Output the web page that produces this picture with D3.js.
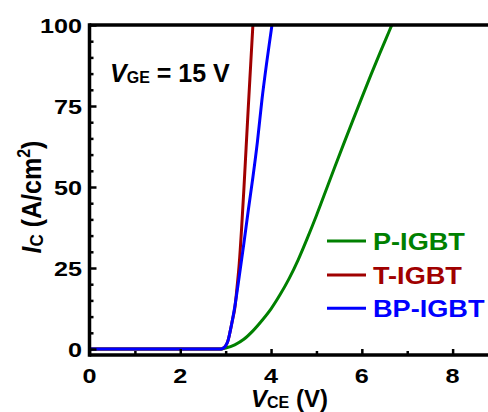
<!DOCTYPE html>
<html>
<head>
<meta charset="utf-8">
<script src="https://cdn.jsdelivr.net/npm/d3@7"></script>
<style>
  html, body { margin: 0; padding: 0; background: #ffffff; }
  svg { display: block; }
  text { font-family: "Liberation Sans", Arial, sans-serif; font-weight: bold; }
</style>
</head>
<body>
<svg id="chart" width="488" height="412"></svg>
<script>
// Output characteristics I_C vs V_CE at V_GE = 15 V
const seriesNames = ["P-IGBT", "T-IGBT", "BP-IGBT"];
const seriesColors = ["#008000", "#a00000", "#0000ff"];

const vceP = [0, 0.5, 1, 1.5, 2, 2.5, 2.9, 3.0, 3.2, 3.4, 3.6, 3.8, 4.0, 4.2, 4.4, 4.6, 4.8, 5.0, 5.2, 5.4, 5.6, 5.8, 6.0, 6.2, 6.4, 6.6, 6.7];
const icP  = [0, 0, 0, 0, 0, 0, 0, 0.3, 1.3, 3.0, 5.6, 8.8, 12.4, 16.8, 21.8, 27.6, 34.2, 41.2, 48.6, 56.0, 63.3, 70.5, 77.6, 84.6, 91.4, 98.0, 101.3];

const vceT = [0, 0.5, 1, 1.5, 2, 2.5, 2.9, 2.95, 3.0, 3.05, 3.1, 3.15, 3.2, 3.25, 3.3, 3.35, 3.4, 3.45, 3.5, 3.55, 3.6, 3.62];
const icT  = [0, 0, 0, 0, 0, 0, 0, 0.3, 1.0, 2.5, 5.5, 9.0, 12.5, 19, 26.5, 37, 49, 62, 75, 87.5, 100, 105];

const vceBP = [0, 0.5, 1, 1.5, 2, 2.5, 2.9, 2.95, 3.0, 3.05, 3.1, 3.2, 3.3, 3.4, 3.5, 3.6, 3.7, 3.8, 3.9, 4.0, 4.05];
const icBP  = [0, 0, 0, 0, 0, 0, 0, 0.3, 1.0, 2.5, 5.5, 13, 22.5, 32.5, 43, 53, 64, 77, 88, 98, 103];

const xMajorTicks = [0, 2, 4, 6, 8];
const xMinorTicks = [1, 3, 5, 7];
const yMajorTicks = [0, 25, 50, 75, 100];
const yMinorTicks = [5, 10, 15, 20, 30, 35, 40, 45, 55, 60, 65, 70, 80, 85, 90, 95];

const svg = d3.select("#chart");
const plotLeft = 89.5, plotRight = 498, plotTop = 25, plotBottom = 355;

const x = d3.scaleLinear().domain([0, 9]).range([plotLeft, plotRight]);
const y = d3.scaleLinear().domain([-1.85, 100]).range([plotBottom, plotTop]);

svg.append("defs").append("clipPath").attr("id", "plotClip")
  .append("rect").attr("x", plotLeft).attr("y", plotTop)
  .attr("width", plotRight - plotLeft).attr("height", plotBottom - plotTop);

// curves
const series = [
  { name: seriesNames[0], color: seriesColors[0], v: vceP, i: icP },
  { name: seriesNames[1], color: seriesColors[1], v: vceT, i: icT },
  { name: seriesNames[2], color: seriesColors[2], v: vceBP, i: icBP }
];
const line = d3.line().x(d => x(d[0])).y(d => y(d[1])).curve(d3.curveMonotoneX);
svg.append("g").attr("clip-path", "url(#plotClip)")
  .selectAll("path").data(series).join("path")
  .attr("d", s => line(s.v.map((v, k) => [v, s.i[k]])))
  .attr("fill", "none")
  .attr("stroke", s => s.color)
  .attr("stroke-width", 3)
  .attr("stroke-linejoin", "round");

// axes with inward ticks
const xAxis = d3.axisTop(x).tickValues(xMajorTicks).tickSize(6).tickFormat("");
const xAxisMinor = d3.axisTop(x).tickValues(xMinorTicks).tickSize(4).tickFormat("");
const yAxis = d3.axisRight(y).tickValues(yMajorTicks).tickSize(7).tickFormat("");
const yAxisMinor = d3.axisRight(y).tickValues(yMinorTicks).tickSize(4).tickFormat("");

function styleAxis(g) {
  g.select(".domain").remove();
  g.selectAll(".tick line").attr("stroke", "#000").attr("stroke-width", 2.5);
}
svg.append("g").attr("transform", `translate(0,${plotBottom})`).call(xAxis).call(styleAxis);
svg.append("g").attr("transform", `translate(0,${plotBottom})`).call(xAxisMinor).call(styleAxis);
svg.append("g").attr("transform", `translate(${plotLeft},0)`).call(yAxis).call(styleAxis);
svg.append("g").attr("transform", `translate(${plotLeft},0)`).call(yAxisMinor).call(styleAxis);

// frame lines
svg.append("line").attr("x1", plotLeft).attr("x2", plotRight).attr("y1", plotBottom).attr("y2", plotBottom)
  .attr("stroke", "#000").attr("stroke-width", 3.5);
svg.append("line").attr("x1", plotLeft).attr("x2", plotRight).attr("y1", plotTop).attr("y2", plotTop)
  .attr("stroke", "#000").attr("stroke-width", 3.5);
svg.append("line").attr("x1", plotLeft).attr("x2", plotLeft).attr("y1", plotTop - 1.75).attr("y2", plotBottom + 1.75)
  .attr("stroke", "#000").attr("stroke-width", 3.5);

// tick labels (wide glyphs)
const sx = 1.2;
xMajorTicks.forEach(t => {
  svg.append("g").attr("transform", `translate(${x(t)},383) scale(${sx},1)`)
    .append("text").attr("text-anchor", "middle").attr("font-size", 21).text(t);
});
yMajorTicks.forEach(t => {
  svg.append("g").attr("transform", `translate(82,${y(t) + 7.5}) scale(${sx},1)`)
    .append("text").attr("text-anchor", "end").attr("font-size", 21).text(t);
});

// axis titles
const xt = svg.append("text").attr("x", 251).attr("y", 406.5).attr("font-size", 24);
xt.append("tspan").attr("font-style", "italic").text("V");
xt.append("tspan").attr("font-size", 16).attr("dy", 1.5).text("CE");
xt.append("tspan").attr("dy", -1.5).text(" (V)");

const yt = svg.append("g").attr("transform", "translate(41,197) rotate(-90) scale(1,1.12)")
  .append("text").attr("text-anchor", "middle").attr("font-size", 25);
yt.append("tspan").attr("font-style", "italic").text("I");
yt.append("tspan").attr("font-size", 17).attr("dy", 2).text("C");
yt.append("tspan").attr("dy", -2).text(" (A/cm");
yt.append("tspan").attr("font-size", 16).attr("dy", -10).text("2");
yt.append("tspan").attr("dy", 10).text(")");

// condition annotation
const ann = svg.append("text").attr("x", 110).attr("y", 81.5).attr("font-size", 25);
ann.append("tspan").attr("font-style", "italic").text("V");
ann.append("tspan").attr("font-size", 16).attr("dy", 1).text("GE");
ann.append("tspan").attr("dy", -1).text(" = 15 V");

// legend
const legendY = [241, 275, 308.3];
series.forEach((s, k) => {
  svg.append("line").attr("x1", 327).attr("x2", 366)
    .attr("y1", legendY[k]).attr("y2", legendY[k])
    .attr("stroke", s.color).attr("stroke-width", 3);
  svg.append("g").attr("transform", `translate(373,${legendY[k] + 9}) scale(1.18,1)`)
    .append("text").attr("font-size", 23).attr("fill", s.color).text(s.name);
});
</script>
</body>
</html>
